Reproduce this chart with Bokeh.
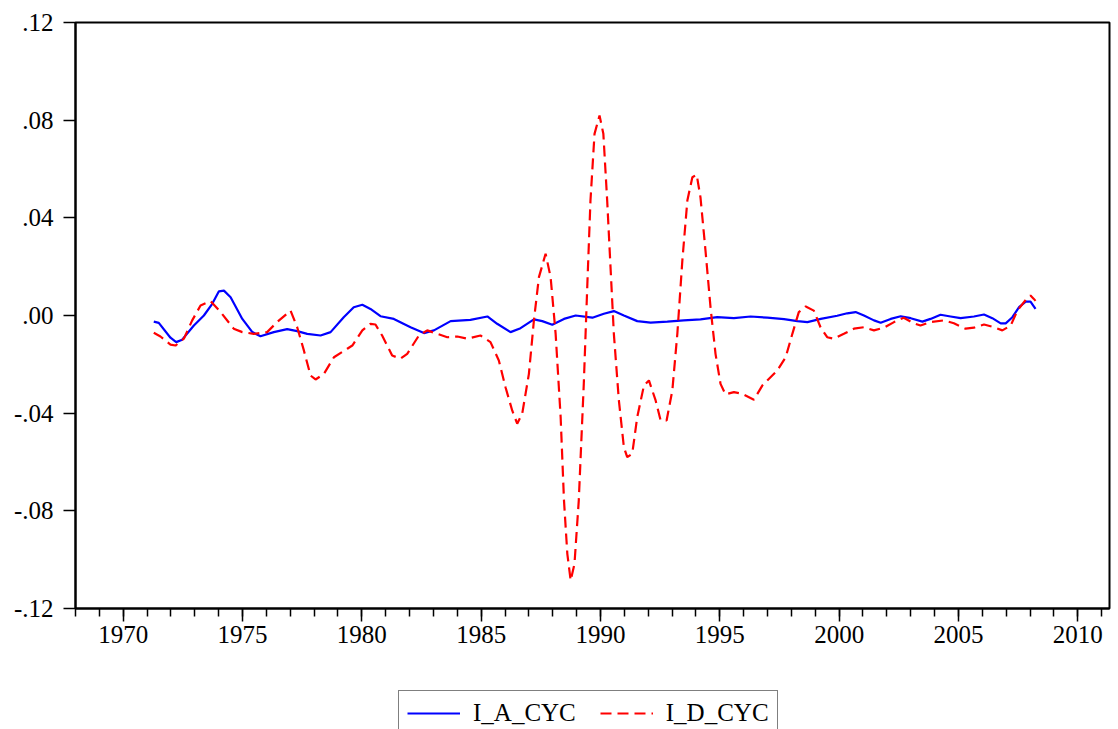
from bokeh.plotting import figure
from bokeh.layouts import column
from bokeh.models import (Range1d, FixedTicker, SingleIntervalTicker, CustomJSTickFormatter,
                          Legend, LegendItem)
from bokeh.embed import file_html
from bokeh.resources import INLINE

# ---- data ----
ia_year = [1971.28, 1971.49, 1971.98, 1972.22, 1972.47, 1972.96, 1973.38, 1973.73, 1974.01, 1974.22,
           1974.50, 1974.99, 1975.41, 1975.75, 1976.31, 1976.87, 1977.29, 1977.71, 1978.27, 1978.69,
           1979.24, 1979.66, 1980.02, 1980.36, 1980.78, 1981.34, 1982.04, 1982.60, 1983.02, 1983.72,
           1984.55, 1985.26, 1985.67, 1986.23, 1986.65, 1987.21, 1987.56, 1987.98, 1988.47, 1988.96,
           1989.66, 1990.14, 1990.56, 1990.98, 1991.54, 1992.10, 1992.80, 1993.49, 1994.19, 1994.89,
           1995.59, 1996.29, 1996.99, 1997.69, 1998.25, 1998.67, 1999.23, 1999.92, 2000.34, 2000.69,
           2001.04, 2001.46, 2001.74, 2002.16, 2002.58, 2003.00, 2003.49, 2003.83, 2004.25, 2004.67,
           2005.09, 2005.65, 2006.07, 2006.42, 2006.77, 2006.98, 2007.26, 2007.54, 2007.82, 2008.02,
           2008.23]
ia_cyc = [-0.0025, -0.0030, -0.0091, -0.0109, -0.0099, -0.0041, 0.0000, 0.0048, 0.0099, 0.0102,
          0.0075, -0.0014, -0.0068, -0.0085, -0.0068, -0.0056, -0.0064, -0.0075, -0.0082, -0.0068,
          -0.0007, 0.0034, 0.0044, 0.0027, -0.0003, -0.0014, -0.0048, -0.0072, -0.0061, -0.0023,
          -0.0018, -0.0004, -0.0034, -0.0068, -0.0052, -0.0016, -0.0023, -0.0038, -0.0014, 0.0000,
          -0.0009, 0.0007, 0.0018, 0.0000, -0.0023, -0.0029, -0.0025, -0.0020, -0.0016, -0.0007,
          -0.0011, -0.0004, -0.0009, -0.0015, -0.0023, -0.0027, -0.0014, -0.0001, 0.0009, 0.0014,
          0.0000, -0.0020, -0.0030, -0.0014, -0.0003, -0.0011, -0.0025, -0.0014, 0.0003, -0.0004,
          -0.0011, -0.0004, 0.0004, -0.0011, -0.0032, -0.0032, -0.0007, 0.0034, 0.0057, 0.0057,
          0.0027]

id_year = [1971.28, 1971.56, 1971.98, 1972.19, 1972.54, 1972.89, 1973.24, 1973.66, 1974.08, 1974.63,
           1974.99, 1975.47, 1976.03, 1976.45, 1977.01, 1977.29, 1977.57, 1977.85, 1978.06, 1978.41,
           1978.83, 1979.39, 1979.60, 1980.02, 1980.36, 1980.57, 1980.85, 1981.27, 1981.62, 1981.90,
           1982.39, 1982.74, 1983.16, 1983.58, 1984.00, 1984.42, 1984.97, 1985.39, 1985.74, 1986.02,
           1986.30, 1986.51, 1986.72, 1987.00, 1987.21, 1987.42, 1987.70, 1987.91, 1988.12, 1988.33,
           1988.47, 1988.61, 1988.75, 1988.91, 1989.09, 1989.30, 1989.45, 1989.58, 1989.75, 1989.96,
           1990.12, 1990.28, 1990.42, 1990.56, 1990.77, 1990.98, 1991.12, 1991.33, 1991.54, 1991.82,
           1992.03, 1992.31, 1992.52, 1992.77, 1993.01, 1993.22, 1993.43, 1993.64, 1993.85, 1994.03,
           1994.19, 1994.40, 1994.61, 1994.82, 1995.03, 1995.24, 1995.59, 1995.94, 1996.43, 1996.78,
           1997.41, 1997.76, 1998.04, 1998.31, 1998.60, 1998.94, 1999.22, 1999.50, 1999.78, 2000.20,
           2000.62, 2001.04, 2001.46, 2001.88, 2002.30, 2002.71, 2003.13, 2003.41, 2003.83, 2004.39,
           2004.81, 2005.30, 2005.65, 2006.07, 2006.49, 2006.84, 2007.19, 2007.47, 2007.82, 2008.02,
           2008.16, 2008.23]
id_cyc = [-0.0071, -0.0086, -0.0119, -0.0123, -0.0095, -0.0020, 0.0041, 0.0059, 0.0014, -0.0054,
          -0.0068, -0.0075, -0.0068, -0.0027, 0.0020, -0.0048, -0.0143, -0.0246, -0.0262, -0.0239,
          -0.0171, -0.0136, -0.0123, -0.0061, -0.0034, -0.0037, -0.0082, -0.0164, -0.0177, -0.0157,
          -0.0082, -0.0061, -0.0075, -0.0089, -0.0086, -0.0095, -0.0082, -0.0109, -0.0184, -0.0294,
          -0.0389, -0.0443, -0.0402, -0.0239, -0.0020, 0.0157, 0.0253, 0.0157, -0.0075, -0.0416,
          -0.0757, -0.0976, -0.1085, -0.1017, -0.0757, -0.0280, 0.0130, 0.0471, 0.0744, 0.0819,
          0.0744, 0.0471, 0.0198, -0.0075, -0.0348, -0.0539, -0.0580, -0.0566, -0.0416, -0.0287,
          -0.0266, -0.0348, -0.0430, -0.0430, -0.0307, -0.0075, 0.0225, 0.0471, 0.0566, 0.0577,
          0.0484, 0.0266, 0.0034, -0.0157, -0.0280, -0.0323, -0.0314, -0.0321, -0.0345, -0.0287,
          -0.0225, -0.0171, -0.0075, 0.0014, 0.0037, 0.0020, -0.0048, -0.0089, -0.0095, -0.0075,
          -0.0054, -0.0048, -0.0061, -0.0050, -0.0027, -0.0009, -0.0032, -0.0041, -0.0027, -0.0020,
          -0.0032, -0.0054, -0.0050, -0.0037, -0.0048, -0.0061, -0.0041, 0.0020, 0.0064, 0.0082,
          0.0068, 0.0060]

y_ticks = [-0.12, -0.08, -0.04, 0.0, 0.04, 0.08, 0.12]
series_names = ["I_A_CYC", "I_D_CYC"]

FONT = "Liberation Serif"
FSIZE = "25px"
BLUE = "#0000FF"
RED = "#FF0000"
DASH = "11 6"
LW = 2.2

p = figure(width=1118, height=660, output_backend="svg", toolbar_location=None,
           x_range=Range1d(1968, 2011.33), y_range=Range1d(-0.12, 0.12),
           min_border_left=75, min_border_right=9, min_border_top=22, min_border_bottom=52)
p.xgrid.visible = False
p.ygrid.visible = False
p.outline_line_color = "black"
p.outline_line_width = 2
p.background_fill_color = "white"
p.border_fill_color = "white"

r1 = p.line(ia_year, ia_cyc, line_color=BLUE, line_width=LW)
r2 = p.line(id_year, id_cyc, line_color=RED, line_width=LW, line_dash=DASH)

# x axis
xa = p.xaxis[0]
xa.ticker = SingleIntervalTicker(interval=5, num_minor_ticks=5)
xa.axis_line_width = 2
xa.major_tick_in = 0
xa.major_tick_out = 13
xa.minor_tick_in = 0
xa.minor_tick_out = 8
xa.major_tick_line_width = 1.5
xa.minor_tick_line_width = 1.5
xa.major_label_text_font = FONT
xa.major_label_text_font_size = FSIZE
xa.major_label_text_color = "black"
xa.major_label_standoff = 4

# y axis
ya = p.yaxis[0]
ya.ticker = FixedTicker(ticks=y_ticks, minor_ticks=[])
ya.formatter = CustomJSTickFormatter(code="return tick.toFixed(2).replace('0.', '.');")
ya.axis_line_width = 2
ya.major_tick_in = 0
ya.major_tick_out = 12
ya.minor_tick_out = 0
ya.major_tick_line_width = 1.5
ya.major_label_text_font = FONT
ya.major_label_text_font_size = FSIZE
ya.major_label_text_color = "black"
ya.major_label_standoff = 10

# ---- legend strip below the chart ----
q = figure(width=1118, height=69, output_backend="svg", toolbar_location=None,
           x_range=Range1d(0, 1), y_range=Range1d(0, 1),
           min_border_left=75, min_border_right=9, min_border_top=0, min_border_bottom=0)
q.axis.visible = False
q.xgrid.visible = False
q.ygrid.visible = False
q.outline_line_color = None
q.background_fill_color = "white"
q.border_fill_color = "white"
# legend-only renderers, kept outside the visible range of this strip
l1 = q.line([-5, -4], [-5, -5], line_color=BLUE, line_width=LW)
l2 = q.line([-5, -4], [-5, -5], line_color=RED, line_width=LW, line_dash=DASH)

legend = Legend(items=[LegendItem(label=series_names[0], renderers=[l1]),
                       LegendItem(label=series_names[1], renderers=[l2])],
                orientation="horizontal", location=(323, -7))
legend.label_text_font = FONT
legend.label_text_font_size = FSIZE
legend.label_text_color = "black"
legend.border_line_color = "black"
legend.border_line_width = 1.5
legend.background_fill_alpha = 1
legend.padding = 8
legend.spacing = 24
legend.label_standoff = 13
legend.glyph_width = 53
legend.margin = 0
q.add_layout(legend, "center")

layout = column(p, q, spacing=0)
open("out.html", "w").write(file_html(layout, INLINE))
